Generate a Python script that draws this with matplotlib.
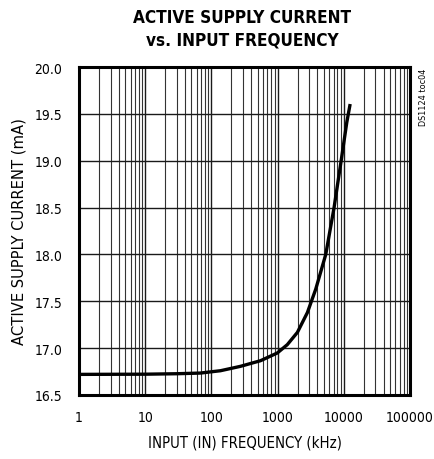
import matplotlib
matplotlib.use("Agg")
import matplotlib.pyplot as plt
from matplotlib import font_manager as fm
import numpy as np

entries = fm.fontManager.ttflist
dv_cond = [f for f in entries if f.name == 'DejaVu Sans' and str(f.stretch) in ('condensed', 'semi-condensed')]
if any(f.name == 'Liberation Sans Narrow' for f in entries):
    plt.rcParams['font.family'] = ['Liberation Sans Narrow', 'DejaVu Sans']
    K = 1.1
elif dv_cond:
    plt.rcParams['font.family'] = ['DejaVu Sans']
    plt.rcParams['font.stretch'] = 'condensed'
    K = 1.0
else:
    plt.rcParams['font.family'] = ['Liberation Sans', 'DejaVu Sans']
    K = 0.92

freq_khz = [1, 10, 30, 68, 137, 275, 552, 988, 1400, 1990, 2820, 3770, 5340, 7130, 9120, 11100, 12470]
current_ma = [16.72, 16.722, 16.727, 16.734, 16.759, 16.806, 16.866, 16.948, 17.037, 17.168,
              17.38, 17.63, 18.0, 18.5, 19.0, 19.41, 19.605]

x_ticks = [1, 10, 100, 1000, 10000, 100000]
x_tick_labels = ["1", "10", "100", "1000", "10000", "100000"]
y_ticks = [16.5, 17.0, 17.5, 18.0, 18.5, 19.0, 19.5, 20.0]

fig = plt.figure(figsize=(4.34, 4.60), dpi=100)
ax = fig.add_axes([79/434, 1-396/460, (410-79)/434, (396-68)/460])

ax.set_xscale('log')
ax.set_xlim(1, 100000)
ax.set_ylim(16.5, 20.0)

ax.set_xticks(x_ticks)
ax.set_xticklabels(x_tick_labels)
ax.set_yticks(y_ticks)
ax.set_yticklabels([f"{v:.1f}" for v in y_ticks])
ax.xaxis.set_minor_locator(matplotlib.ticker.LogLocator(base=10, subs=np.arange(2, 10)))
ax.xaxis.set_minor_formatter(matplotlib.ticker.NullFormatter())
tick_fs = 10.0 * K
ax.tick_params(which='both', length=0, labelsize=tick_fs)
ax.tick_params(axis='x', pad=11)
ax.tick_params(axis='y', pad=12)

ax.grid(True, which='major', axis='both', color='#1a1a1a', linewidth=1.0)
ax.grid(True, which='minor', axis='x', color='#333333', linewidth=0.8)
ax.set_axisbelow(True)

for s in ax.spines.values():
    s.set_linewidth(2.2)
    s.set_color('black')

ax.plot(freq_khz, current_ma, color='black', linewidth=2.4, solid_capstyle='butt',
        solid_joinstyle='round')

ax.set_xlabel("INPUT (IN) FREQUENCY (kHz)", fontsize=10.7 * K)
ax.set_ylabel("ACTIVE SUPPLY CURRENT (mA)", fontsize=11.8 * K)
ax.xaxis.set_label_coords(0.5, (396 - 436) / 328)
ax.yaxis.set_label_coords((27 - 79) / 331, 0.5)

fig.text(0.5*(79+410)/434 - 0.005, 1-9/460, "ACTIVE SUPPLY CURRENT\nvs. INPUT FREQUENCY",
         ha='center', va='top', fontsize=12.3 * K,
         fontweight='bold', linespacing=1.3)
fig.text(423/434, 1-69/460, "DS1124 toc04", rotation=90, ha='center', va='top',
         fontsize=6.5 * K)

fig.savefig("out.png", dpi=100)
